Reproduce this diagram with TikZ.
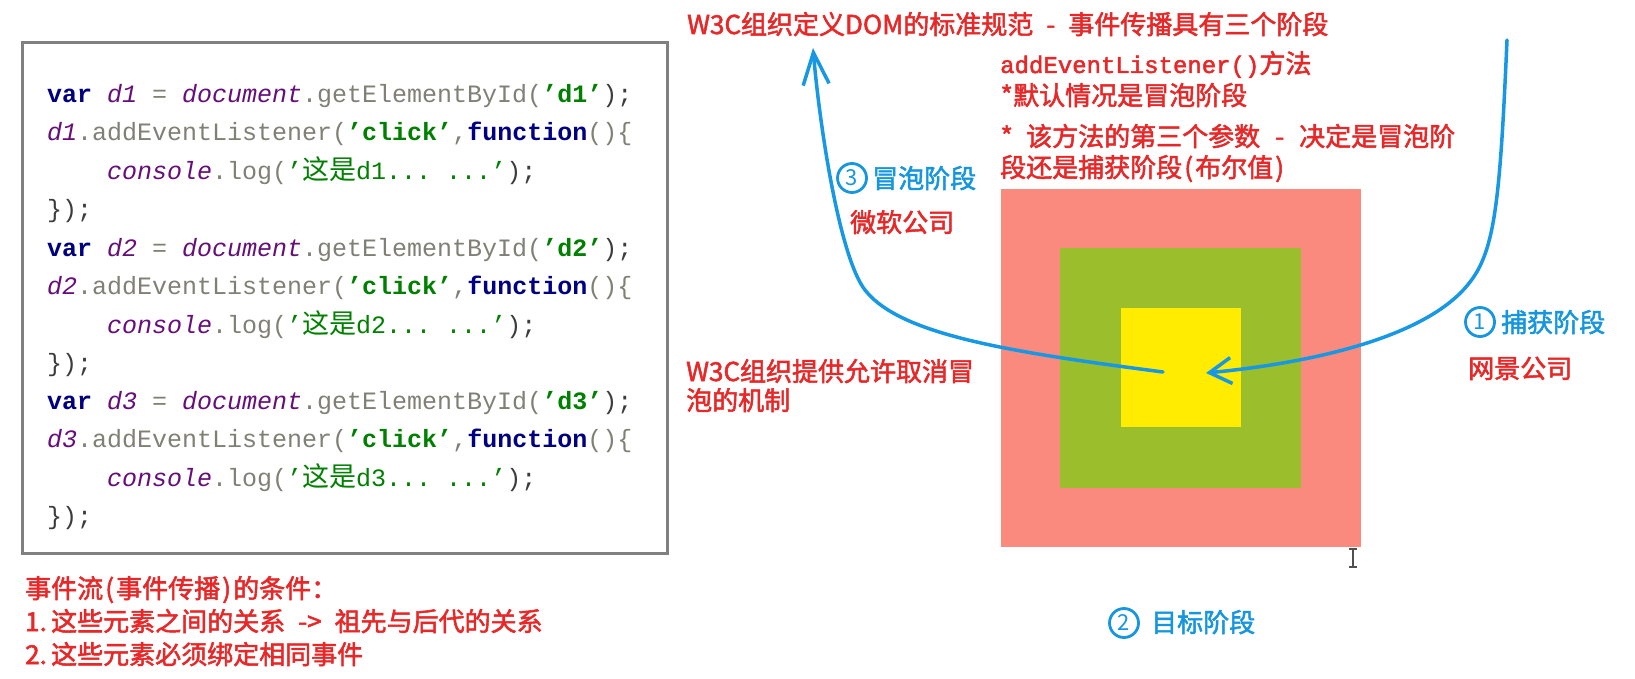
\documentclass[tikz,border=0pt]{standalone}
\usepackage{fontspec}
\setmainfont{Noto Sans CJK SC}
\setmonofont{Liberation Mono}
\newfontfamily\cjkf{Noto Sans CJK SC}
\newfontfamily\lblf{Noto Sans CJK SC}[FakeBold=2]
\newfontfamily\monolbl{Liberation Mono}[FakeBold=2]
\usetikzlibrary{arrows.meta}
\definecolor{txtred}{RGB}{232,40,40}
\definecolor{txtblue}{RGB}{22,150,222}
\definecolor{arrblue}{RGB}{24,152,228}
\definecolor{salmonc}{RGB}{249,138,125}
\definecolor{greenc}{RGB}{154,190,44}
\definecolor{yellowc}{RGB}{255,236,0}
\definecolor{kwnavy}{RGB}{0,0,128}
\definecolor{idpurple}{RGB}{102,14,122}
\definecolor{strgreen}{RGB}{0,128,0}
\definecolor{mgray}{RGB}{128,128,118}
\definecolor{pgray}{RGB}{60,60,60}
\definecolor{boxgray}{RGB}{128,128,128}
\definecolor{cursorc}{RGB}{80,80,80}
\newcommand\cKw[1]{{\color{kwnavy}\bfseries #1}}
\newcommand\cId[1]{{\color{idpurple}\itshape #1}}
\newcommand\cMe[1]{{\color{mgray}#1}}
\newcommand\cSt[1]{{\color{strgreen}\bfseries #1}}
\newcommand\cPu[1]{{\color{pgray}#1}}
\newcommand\cZh[1]{{\cjkf\fontsize{27}{30}\selectfont #1}}
\newcommand\hw[1]{\makebox[0.5em]{#1}}
\newcommand\hs{\hspace{0.5em}}
\begin{document}
\begin{tikzpicture}[x=1pt,y=-1pt,
  codeline/.style={anchor=base west, inner sep=0pt, font=\ttfamily\fontsize{25}{30}\selectfont},
  redlbl/.style={anchor=base west, inner sep=0pt, text=txtred, font=\lblf\fontsize{26}{30}\selectfont},
  bluelbl/.style={anchor=base west, inner sep=0pt, text=txtblue, font=\lblf\fontsize{26}{30}\selectfont},
  numc/.style={circle, draw=txtblue, line width=2.8pt, minimum size=29pt, inner sep=0pt, text=txtblue, font=\cjkf\fontsize{22}{22}\selectfont},
  sq/.style={anchor=north west, inner sep=0pt, outer sep=0pt, draw=none},
  flow/.style={draw=arrblue, line width=3.5pt, line cap=round}
]
\useasboundingbox (0,0) rectangle (1635,679);
\fill[white] (0,0) rectangle (1635,679);

% code box
\node[sq, draw=boxgray, line width=3pt, minimum width=645pt, minimum height=510pt] (codebox) at (22,43) {};

\node[codeline] (c1) at (47,103) {\cKw{var} \cId{d1} \cMe{=} \cId{document}\cMe{.getElementById(}\cSt{’d1’}\cPu{);}};
\node[codeline] (c2) at (47,141) {\cId{d1}\cMe{.addEventListener(}\cSt{’click’}\cMe{,}\cKw{function}\cMe{()\{}};
\node[codeline] (c3) at (107,180) {\cId{console}\cMe{.log(}{\color{strgreen}’\cZh{这是}d1... ...’}\cPu{);}};
\node[codeline] (c4) at (47,218) {\cPu{\});}};
\node[codeline] (c5) at (47,256) {\cKw{var} \cId{d2} \cMe{=} \cId{document}\cMe{.getElementById(}\cSt{’d2’}\cPu{);}};
\node[codeline] (c6) at (47,294) {\cId{d2}\cMe{.addEventListener(}\cSt{’click’}\cMe{,}\cKw{function}\cMe{()\{}};
\node[codeline] (c7) at (107,333) {\cId{console}\cMe{.log(}{\color{strgreen}’\cZh{这是}d2... ...’}\cPu{);}};
\node[codeline] (c8) at (47,371) {\cPu{\});}};
\node[codeline] (c9) at (47,409) {\cKw{var} \cId{d3} \cMe{=} \cId{document}\cMe{.getElementById(}\cSt{’d3’}\cPu{);}};
\node[codeline] (c10) at (47,447) {\cId{d3}\cMe{.addEventListener(}\cSt{’click’}\cMe{,}\cKw{function}\cMe{()\{}};
\node[codeline] (c11) at (107,486) {\cId{console}\cMe{.log(}{\color{strgreen}’\cZh{这是}d3... ...’}\cPu{);}};
\node[codeline] (c12) at (47,524) {\cPu{\});}};

% bottom-left notes
\node[redlbl] (n1) at (25,598) {事件流\hw{(}事件传播\hw{)}的条件：};
\node[redlbl] (n2) at (25,631) {\makebox[1em][l]{1.}这些元素之间的关系\hs->\hs 祖先与后代的关系};
\node[redlbl] (n3) at (25,664) {\makebox[1em][l]{2.}这些元素必须绑定相同事件};

% squares
\node[sq, fill=salmonc, minimum width=360pt, minimum height=358pt] (outer) at (1001,189) {};
\node[sq, fill=greenc, minimum width=241pt, minimum height=240pt] (middle) at (1060,248) {};
\node[sq, fill=yellowc, minimum width=120pt, minimum height=119pt] (inner) at (1121,308) {};

% top texts
\node[redlbl] (title) at (687,34) {W3C组织定义DOM的标准规范\hs-\hs 事件传播具有三个阶段};
\node[redlbl] (m1) at (1000,73) {{\monolbl\fontsize{24}{28}\selectfont addEventListener()}方法};
\node[redlbl] (m2) at (1000,105) {\hw{*}默认情况是冒泡阶段};
\node[redlbl] (m3) at (1000,146) {\hw{*}\hs 该方法的第三个参数\hs\hw{-}\hs 决定是冒泡阶};
\node[redlbl] (m4) at (1000,177) {段还是捕获阶段\hw{(}布尔值\hw{)}};

% phase labels
\node[numc] (k3) at (852,178) {3};
\node[bluelbl] (bub) at (872,188) {冒泡阶段};
\node[redlbl] (ms) at (850,232) {微软公司};
\node[redlbl] (w1) at (686,381) {W3C组织提供允许取消冒};
\node[redlbl] (w2) at (686,410) {泡的机制};

\node[numc] (k1) at (1480,322) {1};
\node[bluelbl] (cap) at (1501,332) {捕获阶段};
\node[redlbl] (ns) at (1468,378) {网景公司};

\node[numc] (k2) at (1124,623) {2};
\node[bluelbl] (tgt) at (1151,632) {目标阶段};

% arrows
\coordinate (capS) at (1507,40);
\coordinate (capE) at (1206,373);
\coordinate (bubS) at (1163,372);
\coordinate (bubE) at (813,48);
\draw[flow, -{Straight Barb[length=22pt,width=26pt]}] (capS) .. controls (1500,200) and (1495,250) .. (1470,282) .. controls (1430,335) and (1320,362) .. (capE);
\draw[flow, -{Straight Barb[length=32pt,width=26pt]}] (bubS) .. controls (1010,352) and (900,335) .. (865,290) .. controls (840,258) and (820,130) .. (bubE);

% text cursor
\draw[cursorc, line width=1.3pt] (1349,549) -- (1357,549) (1353,549) -- (1353,567) (1349,567) -- (1357,567);
\end{tikzpicture}
\end{document}
